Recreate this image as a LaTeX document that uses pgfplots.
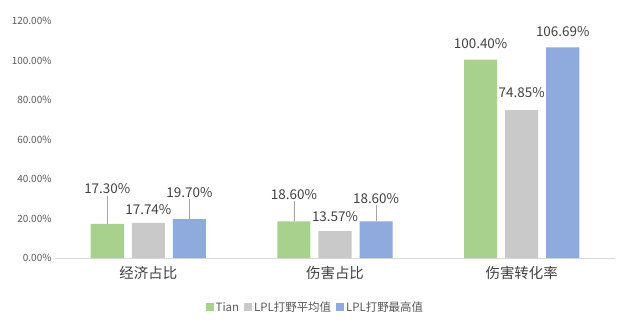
\documentclass[border=0pt]{standalone}
\usepackage{pgfplots}
\pgfplotsset{compat=1.18}
\usepackage{pgfplotstable}
\usepackage{fontspec}
\setmainfont{Noto Sans CJK SC}
\definecolor{cgreen}{HTML}{A9D18E}
\definecolor{cgray}{HTML}{C9C9C9}
\definecolor{cblue}{HTML}{8FAADC}
\definecolor{ctext}{HTML}{404040}
\definecolor{ctick}{HTML}{595959}
\definecolor{caxis}{HTML}{D9D9D9}
\definecolor{cleader}{HTML}{A6A6A6}
\pgfplotstableread{
x y err off
0 17.30 14.2 35
1 18.60 10.1 27
2 100.40 0 16
}\tian
\pgfplotstableread{
x y err off
0 17.74 0 13
1 13.57 0 15
2 74.85 0 18
}\avg
\pgfplotstableread{
x y err off
0 19.70 10.1 27
1 18.60 8.1 23
2 106.69 0 16
}\best
\begin{document}
\begin{tikzpicture}
\begin{axis}[
  name=ax,
  scale only axis,
  width=560bp, height=237bp,
  xmin=-0.5, xmax=2.5, ymin=0, ymax=120,
  ybar, bar width=0.177,
  axis lines*=left,
  y axis line style={draw=none},
  x axis line style={draw=caxis, line width=0.8pt},
  xtick={0,1,2},
  xticklabels={经济占比,伤害占比,伤害转化率},
  ytick={0,20,...,120},
  major tick length=0pt,
  yticklabel={\pgfmathprintnumber[fixed,fixed zerofill,precision=2]{\tick}\%},
  /pgf/number format/assume math mode=true,
  yticklabel style={font=\fontsize{10}{12}\selectfont, text=ctick},
  xticklabel style={font=\fontsize{14.5}{16}\selectfont, text=ctext, yshift=-5bp},
  point meta=y,
  nodes near coords={\pgfmathprintnumber[fixed,fixed zerofill,precision=2]{\pgfplotspointmeta}\%},
  visualization depends on={\thisrow{off}\as\myoff},
  every node near coord/.append style={anchor=center, yshift=\myoff*1bp, font=\fontsize{13.5}{15}\selectfont, text=ctext},
  error bars/y dir=plus,
  error bars/y explicit,
  error bars/error mark=none,
  error bars/error bar style={draw=cleader, line width=0.7pt},
  legend style={at={(0.465,-0.21)}, anchor=center, draw=none, legend columns=3,
    font=\fontsize{11.5}{13}\selectfont, text=ctick,
    /tikz/every even column/.append style={column sep=3bp}},
  legend image code/.code={\draw[#1,draw=none] (0bp,-3.5bp) rectangle (8bp,4.5bp);},
]
\addplot[fill=cgreen, draw=none, bar shift=-0.22] table[x=x,y=y,y error=err] {\tian};
\addplot[fill=cgray, draw=none, bar shift=0] table[x=x,y=y,y error=err] {\avg};
\addplot[fill=cblue, draw=none, bar shift=0.22] table[x=x,y=y,y error=err] {\best};
\legend{Tian, LPL打野平均值, LPL打野最高值}
\end{axis}
\path[use as bounding box] ([xshift=-55bp,yshift=-68bp]ax.south west) rectangle ([xshift=8bp,yshift=21bp]ax.north east);
\end{tikzpicture}
\end{document}
